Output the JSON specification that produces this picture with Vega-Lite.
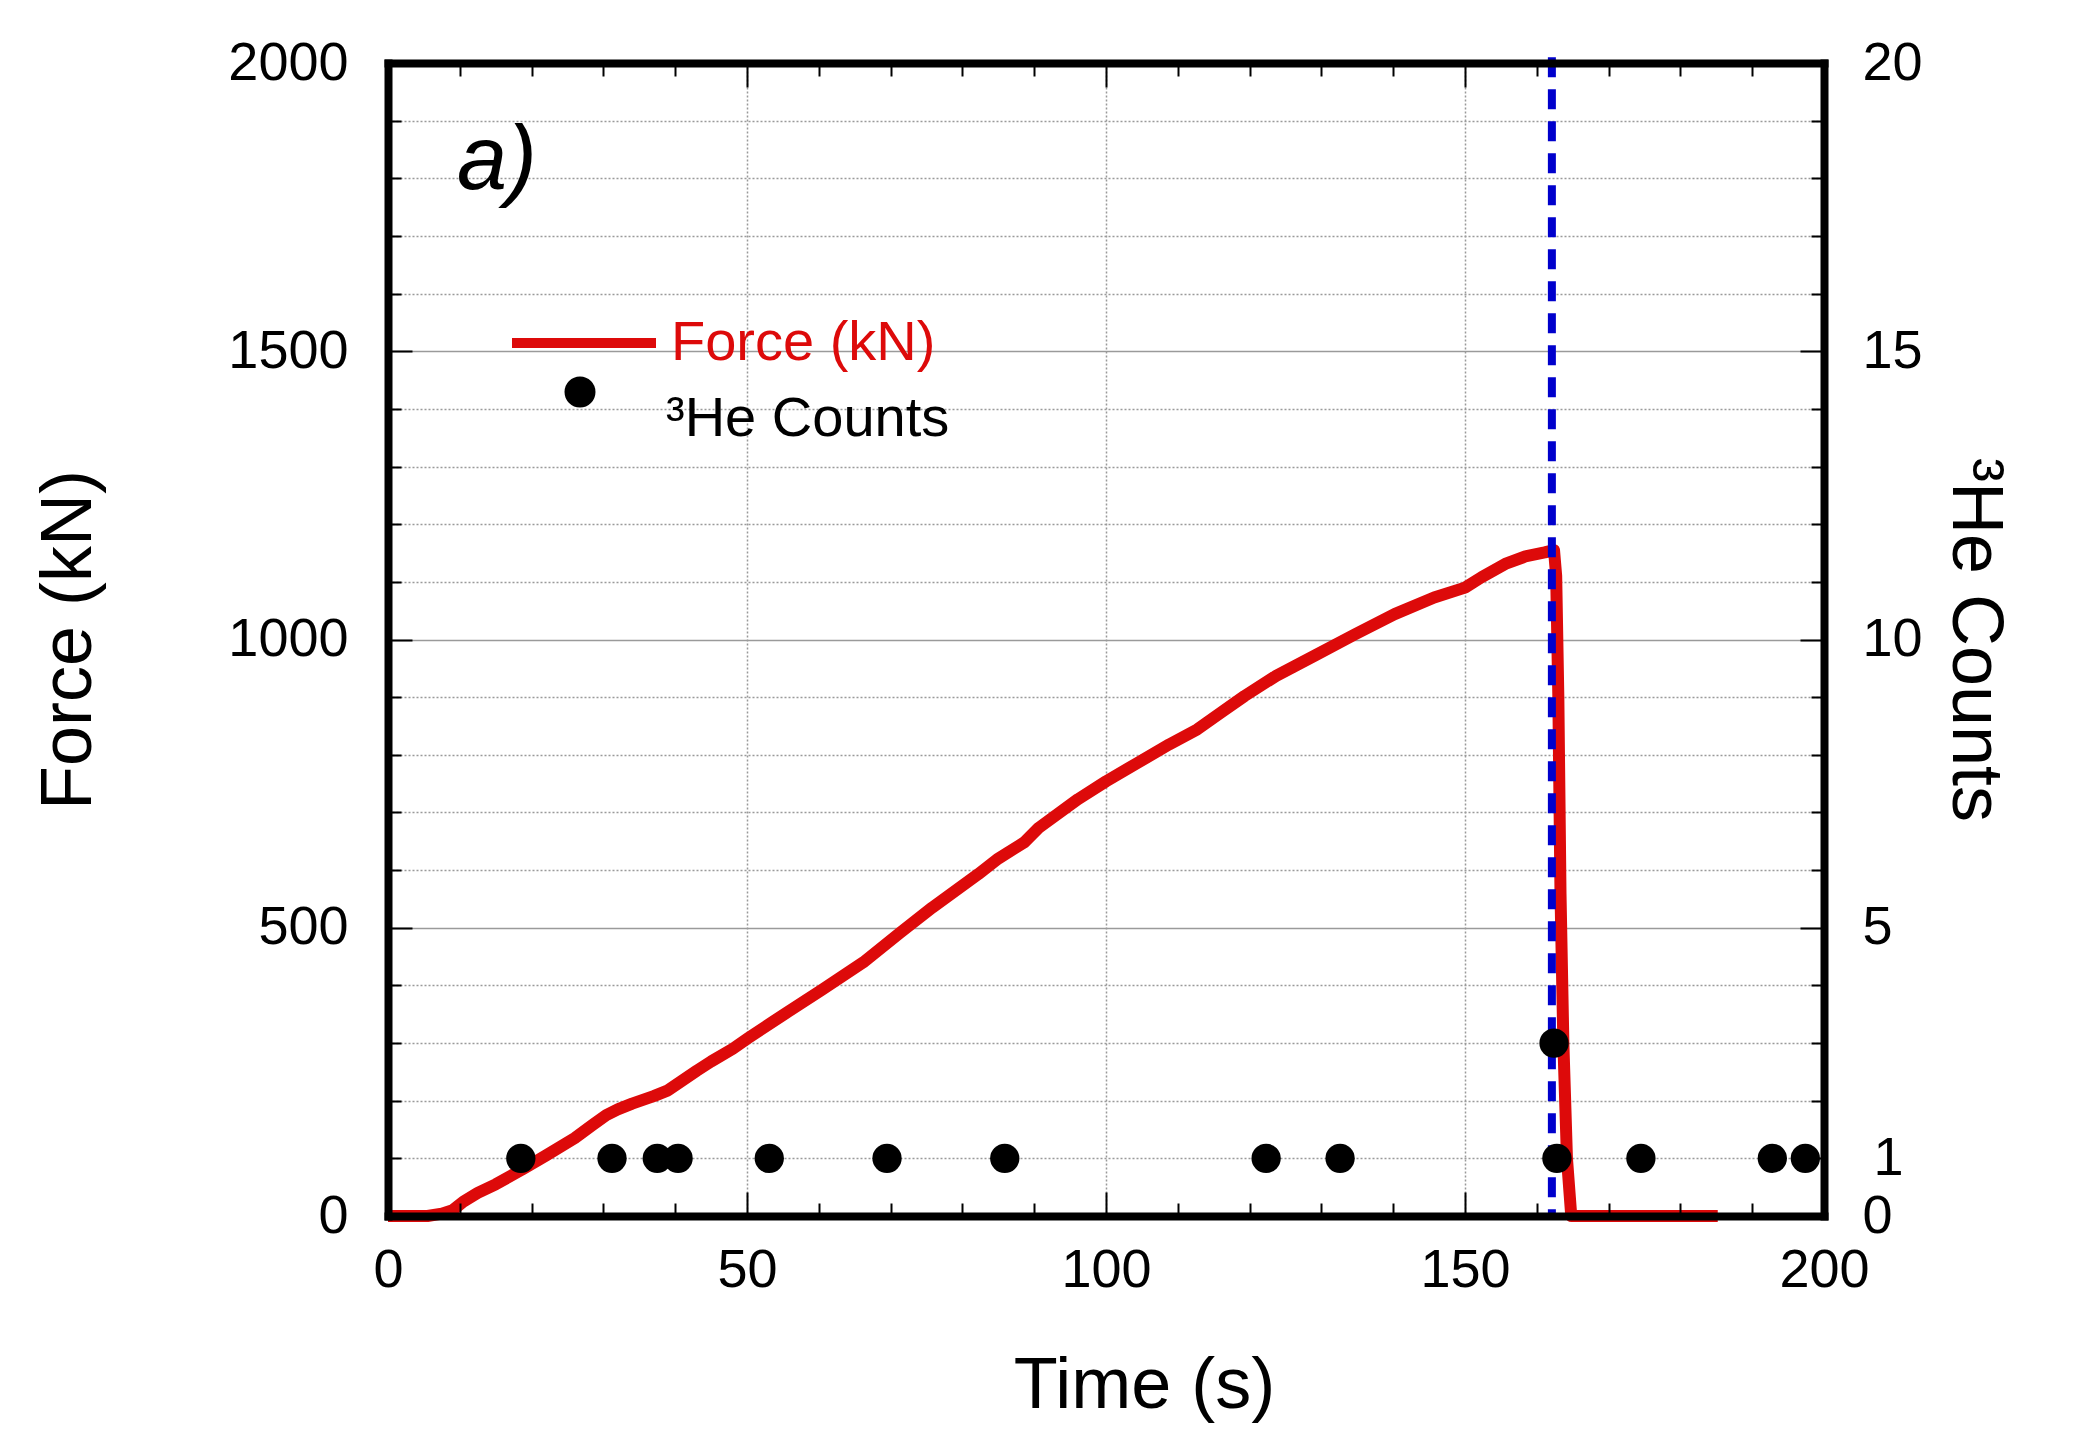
{
  "$schema": "https://vega.github.io/schema/vega-lite/v6.json",
  "description": "Force (kN) and 3He counts versus time, panel a).",
  "width": 1436,
  "height": 1153,
  "autosize": {"type": "none"},
  "padding": {"left": 388, "top": 63, "right": 252, "bottom": 224},
  "background": "white",
  "config": {
    "view": {"stroke": null},
    "font": "Liberation Sans",
    "axis": {
      "labelFont": "Liberation Sans",
      "titleFont": "Liberation Sans",
      "labelColor": "black",
      "titleColor": "black",
      "titleFontWeight": "normal"
    },
    "legend": {"labelFont": "Liberation Sans"}
  },
  "datasets": {
    "force": [
      {"t": 0, "F": 0}, {"t": 5.5, "F": 0}, {"t": 7.5, "F": 4}, {"t": 9, "F": 10},
      {"t": 10.5, "F": 25}, {"t": 12.5, "F": 40}, {"t": 15, "F": 55}, {"t": 18.6, "F": 80},
      {"t": 22, "F": 105}, {"t": 26, "F": 135}, {"t": 28.5, "F": 158}, {"t": 30.4, "F": 175},
      {"t": 32, "F": 185}, {"t": 34, "F": 195}, {"t": 37, "F": 208}, {"t": 39, "F": 218},
      {"t": 41, "F": 235}, {"t": 43, "F": 252}, {"t": 45, "F": 268}, {"t": 48, "F": 290},
      {"t": 50.2, "F": 309}, {"t": 55.3, "F": 351}, {"t": 60.5, "F": 393}, {"t": 66.2, "F": 440},
      {"t": 71.3, "F": 491}, {"t": 75.8, "F": 535}, {"t": 82.2, "F": 593}, {"t": 85, "F": 620},
      {"t": 88.6, "F": 648}, {"t": 90.6, "F": 673}, {"t": 96.1, "F": 723}, {"t": 100, "F": 754},
      {"t": 104.4, "F": 786}, {"t": 108.8, "F": 818}, {"t": 112.7, "F": 844}, {"t": 116, "F": 873},
      {"t": 119.3, "F": 902}, {"t": 123.7, "F": 937}, {"t": 129.2, "F": 973}, {"t": 134.7, "F": 1009},
      {"t": 140.2, "F": 1044}, {"t": 145.7, "F": 1073}, {"t": 150, "F": 1090}, {"t": 152.3, "F": 1108},
      {"t": 155.6, "F": 1131}, {"t": 158.4, "F": 1144}, {"t": 161.1, "F": 1151}, {"t": 162.4, "F": 1155},
      {"t": 162.7, "F": 1110}, {"t": 163, "F": 900}, {"t": 163.3, "F": 560}, {"t": 163.7, "F": 300},
      {"t": 164.2, "F": 100}, {"t": 164.8, "F": 0}, {"t": 185.2, "F": 0}
    ],
    "counts": [
      {"t": 18.5, "c": 1}, {"t": 31.2, "c": 1}, {"t": 37.5, "c": 1}, {"t": 40.4, "c": 1},
      {"t": 53.1, "c": 1}, {"t": 69.5, "c": 1}, {"t": 85.9, "c": 1}, {"t": 122.3, "c": 1},
      {"t": 132.6, "c": 1}, {"t": 162.4, "c": 3}, {"t": 162.8, "c": 1}, {"t": 174.5, "c": 1},
      {"t": 192.8, "c": 1}, {"t": 197.4, "c": 1}
    ],
    "event": [{"t": 162.1}],
    "panel": [{"label": "a)"}]
  },
  "layer": [
    {
      "data": {"name": "force"},
      "mark": {"type": "line", "strokeWidth": 12, "strokeJoin": "round", "clip": false},
      "encoding": {
        "x": {
          "field": "t", "type": "quantitative",
          "scale": {"domain": [0, 200], "nice": false, "zero": false},
          "axis": {
            "orient": "bottom", "grid": true, "values": [50, 100, 150],
            "gridColor": "#999999", "gridDash": [2, 2], "gridWidth": 1.5,
            "domain": false, "ticks": false, "labels": false, "title": null, "zindex": 0
          }
        },
        "y": {
          "field": "F", "type": "quantitative",
          "scale": {"domain": [0, 2000], "nice": false},
          "axis": {
            "orient": "left", "grid": true,
            "values": [100, 200, 300, 400, 500, 600, 700, 800, 900, 1000, 1100, 1200, 1300, 1400, 1500, 1600, 1700, 1800, 1900],
            "gridColor": "#9a9a9a",
            "gridDash": {"condition": {"test": "datum.value % 500 === 0", "value": []}, "value": [2, 2]},
            "gridWidth": 1.5,
            "domain": false, "ticks": false, "labels": false, "title": null, "zindex": 0
          }
        },
        "color": {
          "datum": "Force (kN)", "type": "nominal",
          "scale": {"domain": ["Force (kN)"], "range": ["#dd0a0a"]},
          "legend": {
            "orient": "none", "legendX": 119, "legendY": 203,
            "title": null, "padding": 0,
            "symbolType": "stroke", "symbolSize": 20736, "symbolStrokeWidth": 10,
            "symbolStrokeColor": "#dd0a0a",
            "labelFontSize": 56, "labelOffset": 10, "labelLimit": 600,
            "labelColor": "#dd0a0a"
          }
        }
      }
    },
    {
      "data": {"name": "event"},
      "mark": {"type": "rule", "color": "#0000cc", "strokeWidth": 8, "strokeDash": [20, 12], "clip": false},
      "encoding": {
        "x": {
          "field": "t", "type": "quantitative",
          "scale": {"domain": [0, 200], "nice": false, "zero": false},
          "axis": {
            "orient": "bottom",
            "values": [0, 10, 20, 30, 40, 50, 60, 70, 80, 90, 100, 110, 120, 130, 140, 150, 160, 170, 180, 190, 200],
            "labelExpr": "datum.value % 50 === 0 ? datum.label : ''",
            "labelFontSize": 54, "labelFlush": false, "labelOverlap": false, "labelPadding": 51,
            "tickSize": {"condition": {"test": "datum.value % 50 === 0", "value": -24}, "value": -13},
            "tickWidth": 2, "tickColor": "black",
            "domainColor": "black", "domainWidth": 8, "domainCap": "square",
            "grid": false,
            "title": "Time (s)", "titleFontSize": 72, "titleX": 756, "titleY": 191,
            "titleBaseline": "alphabetic", "titleAlign": "center",
            "zindex": 1
          }
        },
        "y": {
          "datum": 2010, "type": "quantitative",
          "scale": {"domain": [0, 2000], "nice": false},
          "axis": {
            "orient": "left",
            "values": [0, 100, 200, 300, 400, 500, 600, 700, 800, 900, 1000, 1100, 1200, 1300, 1400, 1500, 1600, 1700, 1800, 1900, 2000],
            "format": "d",
            "labelExpr": "datum.value % 500 === 0 ? datum.label : ''",
            "labelFontSize": 54, "labelFlush": false, "labelOverlap": false, "labelPadding": 64,
            "tickSize": {"condition": {"test": "datum.value % 500 === 0", "value": -24}, "value": -13},
            "tickWidth": 2, "tickColor": "black",
            "domainColor": "black", "domainWidth": 8, "domainCap": "square",
            "grid": false,
            "title": "Force (kN)", "titleFontSize": 72, "titleAngle": -90, "titleX": -298,
            "titleBaseline": "alphabetic",
            "zindex": 1
          }
        },
        "y2": {"datum": -5}
      }
    },
    {
      "data": {"name": "counts"},
      "mark": {"type": "point", "filled": true, "size": 860, "opacity": 1, "color": "black", "clip": false},
      "encoding": {
        "x": {
          "field": "t", "type": "quantitative",
          "scale": {"domain": [0, 200], "nice": false, "zero": false},
          "axis": {
            "orient": "top",
            "values": [0, 10, 20, 30, 40, 50, 60, 70, 80, 90, 100, 110, 120, 130, 140, 150, 160, 170, 180, 190, 200],
            "labels": false,
            "tickSize": {"condition": {"test": "datum.value % 50 === 0", "value": -24}, "value": -13},
            "tickWidth": 2, "tickColor": "black",
            "domainColor": "black", "domainWidth": 8, "domainCap": "square",
            "grid": false, "title": null, "zindex": 1
          }
        },
        "y": {
          "field": "c", "type": "quantitative",
          "scale": {"domain": [0, 20], "nice": false},
          "axis": {
            "orient": "right",
            "values": [0, 1, 2, 3, 4, 5, 6, 7, 8, 9, 10, 11, 12, 13, 14, 15, 16, 17, 18, 19, 20],
            "labelExpr": "indexof([0, 1, 5, 10, 15, 20], datum.value) >= 0 ? datum.label : ''",
            "labelFontSize": 54, "labelFlush": false, "labelOverlap": false, "labelPadding": 62,
            "tickSize": {"condition": {"test": "datum.value % 5 === 0", "value": -24}, "value": -13},
            "tickWidth": 2, "tickColor": "black",
            "domainColor": "black", "domainWidth": 8, "domainCap": "square",
            "grid": false,
            "title": "³He Counts", "titleFontSize": 72, "titleAngle": 90, "titleX": 128,
            "titleBaseline": "alphabetic",
            "zindex": 1
          }
        },
        "shape": {
          "datum": "³He Counts", "type": "nominal",
          "scale": {"domain": ["³He Counts"], "range": ["circle"]},
          "legend": {
            "orient": "none", "legendX": 164, "legendY": 301,
            "title": null, "padding": 0,
            "symbolSize": 960, "symbolFillColor": "black", "symbolStrokeColor": "black",
            "symbolStrokeWidth": 0,
            "labelFontSize": 56, "labelOffset": 58, "labelLimit": 600, "labelColor": "black",
            "labelBaseline": "top"
          }
        }
      }
    },
    {
      "data": {"name": "panel"},
      "mark": {"type": "text", "font": "Liberation Sans", "fontStyle": "italic", "fontSize": 90, "align": "left", "baseline": "alphabetic", "color": "black"},
      "encoding": {
        "x": {"datum": 9.6, "type": "quantitative", "axis": null},
        "y": {"datum": 1781, "type": "quantitative", "scale": {"domain": [0, 2000], "nice": false}, "axis": null},
        "text": {"field": "label"}
      }
    }
  ],
  "resolve": {
    "scale": {"y": "independent"},
    "axis": {"x": "independent", "y": "independent"}
  }
}
